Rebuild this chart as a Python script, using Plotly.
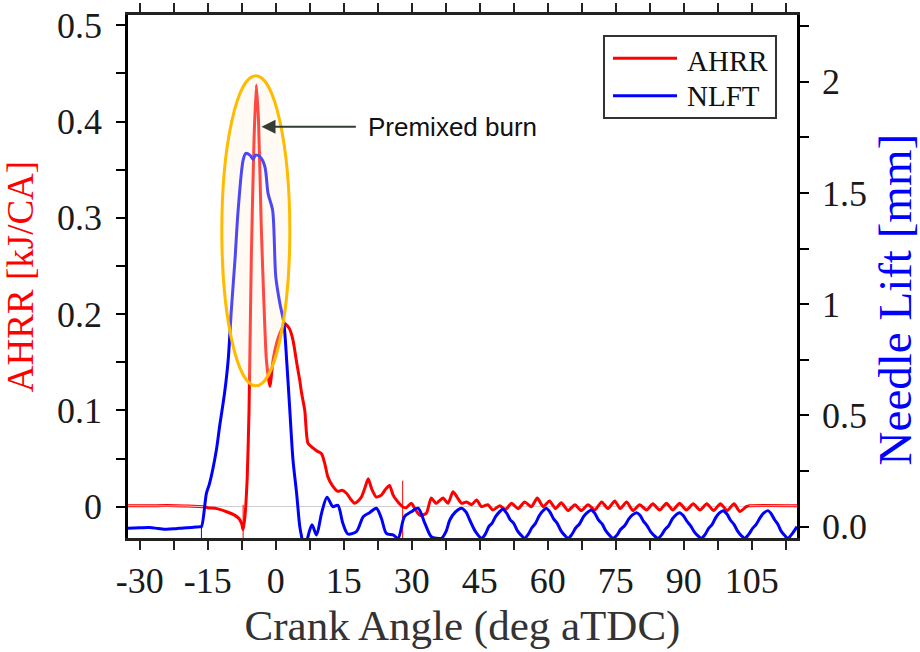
import plotly.graph_objects as go

# ---- data ----
ahrr_deg = [-32.6, -28, -24, -20, -16, -15, -13, -11, -9, -8, -7.5, -7.2, -6.8, -6.3, -5.9, -5.4,
            -4.8, -4.3, -3.8, -3.2, -2.6, -2.06, -1.3, -0.6, 0.2, 0.9, 2.0, 3.0, 3.8, 4.6, 5.3, 5.7,
            6.4, 7.1, 8.2, 9.0, 10.1, 10.8, 11.5, 12.5, 13.7, 14.6, 15.6, 16.5, 17.4, 18.2, 18.9,
            19.7, 20.4, 21.2, 22.2, 23.3, 24.2, 25.1, 25.9, 26.6, 27.3, 28.0, 28.8, 29.9, 30.8,
            31.8, 33.2, 34.3, 35.4, 36.9, 38.0, 39.1, 40.0, 41.0, 42.1, 43.2, 44.3, 45.4, 46.8,
            47.9, 49.4, 50.7, 52.0, 53.5, 54.9, 56.4, 57.7, 59.0, 60.4, 61.7, 63.0, 64.5, 66.0,
            67.4, 68.9, 70.4, 71.9, 73.3, 74.8, 76.0, 77.4, 78.8, 80.3, 81.8, 83.2, 84.7, 86.2,
            87.6, 89.1, 90.6, 92.1, 93.6, 95.1, 96.6, 98.1, 99.6, 101.1, 102.4, 103.8, 104.5, 115.0]
ahrr_val = [0.001, 0.001, 0.0012, 0.0008, 0.0, -0.001, -0.002, -0.005, -0.009, -0.013, -0.018,
            -0.024, -0.01, 0.03, 0.1, 0.256, 0.38, 0.438, 0.40, 0.291, 0.21, 0.152, 0.125, 0.152,
            0.17, 0.180, 0.19, 0.185, 0.173, 0.15, 0.131, 0.118, 0.100, 0.066, 0.061, 0.058, 0.055,
            0.045, 0.031, 0.022, 0.016, 0.017, 0.014, 0.008, 0.0035, 0.006, 0.010, 0.02, 0.029,
            0.018, 0.010, 0.012, 0.018, 0.022, 0.012, 0.007, 0.003, 0.0, -0.001, 0.0035, -0.003,
            -0.009, -0.007, 0.009, 0.0035, 0.009, 0.0035, 0.0155, 0.01, 0.0035, 0.005, 0.002, 0.007,
            0.0, 0.002, -0.0035, 0.001, -0.003, 0.0035, -0.002, 0.005, 0.0, 0.009, 0.0, 0.006,
            -0.002, 0.004, -0.004, 0.002, -0.004, 0.002, -0.0035, 0.005, -0.002, 0.006, -0.002,
            0.005, -0.004, 0.002, -0.0035, 0.003, -0.0035, 0.0035, -0.0035, 0.0035, -0.0035, 0.003,
            -0.0035, 0.003, -0.004, 0.003, -0.004, 0.003, -0.005, 0.0, 0.001, 0.001]

nlft_deg = [-32.6, -30, -27.8, -26, -24.1, -22, -20.4, -18.5, -16.8, -16.4, -15.3, -14.6, -13.1,
            -12.4, -11.3, -10.5, -9.8, -9.0, -8.3, -7.2, -6.6, -5.7, -5.0, -4.5, -3.5, -2.4, -1.7,
            -0.7, 0.0, 0.9, 1.8, 2.4, 3.1, 3.8, 4.6, 5.3, 5.7, 6.4, 7.1, 8.0, 9.0, 10.1, 11.3, 12.6,
            13.7, 14.8, 15.9, 17.8, 19.3, 20.7, 22.2, 23.3, 24.4, 25.9, 27.0, 28.4, 29.9, 31.4,
            32.9, 34.3, 35.5, 36.6, 37.6, 38.4, 39.6, 41.0, 42.0, 42.8, 44.0, 45.4,
            46.2, 47.0, 47.7, 48.5, 49.3, 50.1, 50.9, 51.7, 52.5, 53.3, 54.1, 54.9,
            55.7, 56.5, 57.3, 58.1, 58.9, 59.7, 60.5, 61.3, 62.1, 62.9, 63.7, 64.5,
            65.3, 66.2, 67.0, 67.9, 68.7, 69.6, 70.4, 71.2, 72.0, 72.8, 73.6, 74.4,
            75.3, 76.1, 77.0, 77.9, 78.7, 79.6, 80.4, 81.1, 81.9, 82.7, 83.5, 84.3,
            85.1, 85.9, 86.7, 87.5, 88.3, 89.1, 89.9, 90.7, 91.5, 92.3, 93.1, 93.9,
            94.7, 95.5, 96.3, 97.1, 97.9, 98.7, 99.5, 100.3, 101.1, 101.9, 102.7, 103.5,
            104.3, 105.2, 106.0, 106.9, 107.7, 108.6, 109.3, 110.1, 110.8, 111.5, 112.3, 113.0,
            114.0, 115.0]
nlft_val = [-0.007, -0.005, -0.004, -0.008, -0.012, -0.009, -0.006, -0.004, 0.0, 0.0, 0.15, 0.195,
            0.345, 0.449, 0.6, 0.749, 0.974, 1.199, 1.423, 1.648, 1.678, 1.67, 1.651, 1.67, 1.663,
            1.618, 1.498, 1.423, 1.124, 1.004, 0.914, 0.749, 0.524, 0.3, 0.15, 0.0, -0.045, -0.12,
            -0.045, 0.008, -0.037, 0.06, 0.132, 0.09, 0.096, 0.015, -0.033, -0.022, 0.045, 0.063,
            0.083, 0.038, -0.03, -0.037, -0.052, 0.045, 0.067, 0.083, 0.015, -0.045, -0.052,
            -0.052, -0.02, 0.03, 0.065, 0.083, 0.065, 0.03, -0.02, -0.052,
            -0.035, 0.0, 0.015, 0.045, 0.065, 0.078, 0.062, 0.032, 0.015, -0.018, -0.038, -0.052,
            -0.035, -0.005, 0.015, 0.048, 0.07, 0.083, 0.065, 0.035, 0.015, -0.018, -0.038, -0.052,
            -0.036, -0.005, 0.012, 0.045, 0.063, 0.075, 0.06, 0.03, 0.012, -0.018, -0.038, -0.052,
            -0.038, -0.012, 0.005, 0.035, 0.053, 0.063, 0.05, 0.025, 0.005, -0.022, -0.04, -0.052,
            -0.038, -0.012, 0.005, 0.035, 0.053, 0.063, 0.05, 0.025, 0.005, -0.022, -0.04, -0.052,
            -0.036, -0.008, 0.01, 0.042, 0.062, 0.072, 0.058, 0.03, 0.01, -0.02, -0.04, -0.052,
            -0.036, -0.008, 0.01, 0.042, 0.062, 0.072, 0.058, 0.03, 0.01, -0.02, -0.04, -0.052,
            -0.03, 0.0]

# thin vertical glitches visible in the original traces
ahrr_glitch_deg = [[28.0, 28.0], [-7.2, -7.2]]
ahrr_glitch_val = [[0.027, -0.035], [0.002, -0.035]]
nlft_glitch_deg = [-16.4, -16.4]
nlft_glitch_val = [0.0, -0.06]

x_ticks = [-30, -15, 0, 15, 30, 45, 60, 75, 90, 105]
x_ticktext = ["-30", "-15", "0", "15", "30", "45", "60", "75", "90", "105"]
y2_ticks = [0, 0.5, 1, 1.5, 2]
y2_ticktext = ["0.0", "0.5", "1", "1.5", "2"]

RED = "#ff0000"
BLUE = "#0000ff"
SERIF = "Liberation Serif, Times New Roman, serif"
SANS = "Liberation Sans, Arial, sans-serif"

fig = go.Figure()

fig.add_trace(go.Scatter(x=nlft_glitch_deg, y=nlft_glitch_val, mode="lines", yaxis="y2",
                         line=dict(color=BLUE, width=1), showlegend=False, hoverinfo="skip"))
fig.add_trace(go.Scatter(x=nlft_deg, y=nlft_val, mode="lines", name="NLFT", yaxis="y2",
                         line=dict(color=BLUE, width=3, shape="spline", smoothing=0.8),
                         showlegend=False))
for gx, gy in zip(ahrr_glitch_deg, ahrr_glitch_val):
    fig.add_trace(go.Scatter(x=gx, y=gy, mode="lines", line=dict(color=RED, width=1),
                             showlegend=False, hoverinfo="skip"))
fig.add_trace(go.Scatter(x=ahrr_deg, y=ahrr_val, mode="lines", name="AHRR",
                         line=dict(color=RED, width=3, shape="spline", smoothing=0.6),
                         showlegend=False))
# light centre of the flat red segments (hollow look in the original)
fig.add_trace(go.Scatter(x=ahrr_deg[:5], y=ahrr_val[:5], mode="lines",
                         line=dict(color="rgba(255,255,255,0.75)", width=1),
                         showlegend=False, hoverinfo="skip"))
fig.add_trace(go.Scatter(x=ahrr_deg[-2:], y=ahrr_val[-2:], mode="lines",
                         line=dict(color="rgba(255,255,255,0.75)", width=1),
                         showlegend=False, hoverinfo="skip"))

# highlighted premixed-burn region
fig.add_shape(type="circle", xref="x", yref="y", x0=-11.9, x1=3.1, y0=0.1256, y1=0.4476,
              line=dict(color="#ffbb00", width=3), fillcolor="rgba(255,240,215,0.3)",
              layer="above")
fig.add_annotation(x=-3.15, y=0.3946, ax=18.0, ay=0.3946, xref="x", yref="y", axref="x",
                   ayref="y", text="", showarrow=True, arrowhead=2, arrowsize=1.4,
                   arrowwidth=2, arrowcolor="#333d33", standoff=0)
fig.add_annotation(x=19.9, y=0.3946, xref="x", yref="y", text="Premixed burn",
                   showarrow=False, xanchor="left", yanchor="middle",
                   font=dict(family=SANS, size=26, color="#111111"))

# legend drawn by hand to match the long line samples
fig.add_shape(type="rect", xref="paper", yref="paper", x0=0.7115, x1=0.9686, y0=0.8031,
              y1=0.9598, line=dict(color="#333333", width=2), fillcolor="white", layer="above")
fig.add_shape(type="line", xref="paper", yref="paper", x0=0.725, x1=0.8206, y0=0.9172,
              y1=0.9172, line=dict(color=RED, width=3), layer="above")
fig.add_shape(type="line", xref="paper", yref="paper", x0=0.725, x1=0.8206, y0=0.8457,
              y1=0.8457, line=dict(color=BLUE, width=3), layer="above")
fig.add_annotation(x=0.8326, y=0.9126, xref="paper", yref="paper", text="AHRR",
                   showarrow=False, xanchor="left", yanchor="middle",
                   font=dict(family=SERIF, size=29, color="#111111"))
fig.add_annotation(x=0.8326, y=0.8451, xref="paper", yref="paper", text="NLFT",
                   showarrow=False, xanchor="left", yanchor="middle",
                   font=dict(family=SERIF, size=29, color="#111111"))

# right axis title (placed as in the original, below the plot centre)
fig.add_annotation(x=1.147, y=0.455, xref="paper", yref="paper", text="Needle Lift [mm]",
                   showarrow=False, textangle=-90, xanchor="center", yanchor="middle",
                   font=dict(family=SERIF, size=47, color=BLUE))

tickfont = dict(family=SERIF, size=36, color="#1a1a1a")

fig.update_layout(
    width=920, height=652,
    margin=dict(l=128, r=123, t=15, b=114, autoexpand=False),
    paper_bgcolor="white", plot_bgcolor="white",
    showlegend=False,
    xaxis=dict(range=[-32.6, 115], tickvals=x_ticks, ticktext=x_ticktext, ticks="outside",
               ticklen=9, tickwidth=2, automargin=False,
               tickcolor="#222222", showline=True, linecolor="#222222", linewidth=2.5,
               mirror="ticks", showgrid=False, zeroline=False, tickfont=tickfont,
               ticklabelstandoff=0,
               minor=dict(dtick=7.5, tick0=0, ticks="outside", ticklen=9, tickwidth=2,
                          tickcolor="#222222"),
               title=dict(text="Crank Angle (deg aTDC)", standoff=10,
                          font=dict(family=SERIF, size=43, color="#333333"))),
    yaxis=dict(range=[-0.0325, 0.5106], tick0=0, dtick=0.1, ticks="outside", ticklen=9,
               tickwidth=2, tickcolor="black", showline=True, linecolor="black", linewidth=2.5,
               showgrid=False, zeroline=True, zerolinecolor="#d0d0d0", zerolinewidth=1,
               tickfont=tickfont, ticklabelstandoff=7, automargin=False,
               minor=dict(dtick=0.05, tick0=0, ticks="outside", ticklen=9, tickwidth=2,
                          tickcolor="black"),
               title=dict(text="AHRR [kJ/CA]", standoff=22,
                          font=dict(family=SERIF, size=37, color=RED))),
    yaxis2=dict(range=[-0.051, 2.3], overlaying="y", side="right", tickvals=y2_ticks,
                ticktext=y2_ticktext, ticks="outside", ticklen=9, tickwidth=2,
                tickcolor="black", showline=True, linecolor="black", linewidth=2.5,
                showgrid=False, zeroline=False, tickfont=tickfont, ticklabelstandoff=6,
                automargin=False,
                minor=dict(tickvals=[0.25, 0.75, 1.25, 1.75, 2.25], ticks="outside",
                           ticklen=9, tickwidth=2, tickcolor="black")),
)

fig.write_html("out.html")
